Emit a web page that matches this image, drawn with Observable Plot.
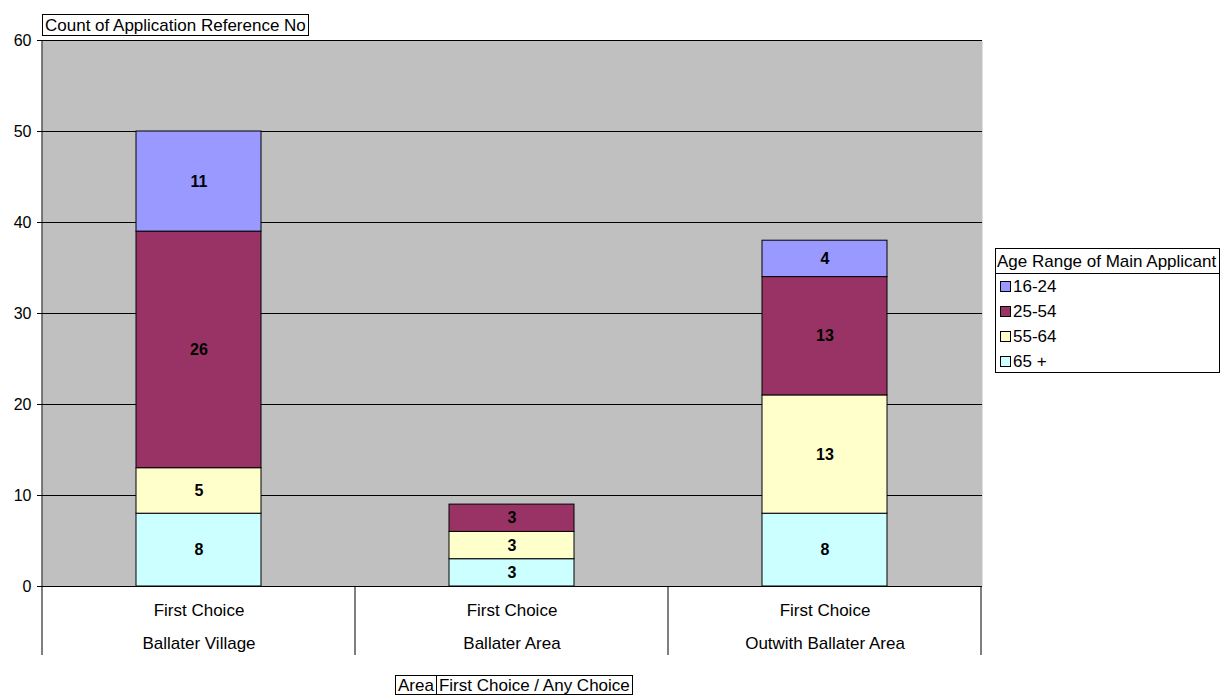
<!DOCTYPE html>
<html>
<head>
<meta charset="utf-8">
<script src="https://cdn.jsdelivr.net/npm/d3@7"></script>
<script src="https://cdn.jsdelivr.net/npm/@observablehq/plot@0.6"></script>
<style>
  html, body { margin: 0; padding: 0; background: #fff; }
  body { font-family: "Liberation Sans", Arial, sans-serif; color: #000; }
  #wrap { position: relative; width: 1220px; height: 695px; }
  #chart { position: absolute; left: 0; top: 0; }
  .box { position: absolute; border: 1px solid #000; background: #fff; font-size: 17px; line-height: 1; box-sizing: border-box; }
  #title { left: 42px; top: 14px; height: 22px; padding: 2px 2px 0 2px; white-space: nowrap; }
  #legend { left: 995px; top: 248px; width: 225px; height: 125px; }
  #legend .hdr { height: 25px; border-bottom: 1px solid #000; padding: 4px 1px 0 1px; box-sizing: border-box; white-space: nowrap; }
  #legend .item { height: 25px; display: flex; align-items: center; padding-left: 4px; }
  #legend .sw { width: 11px; height: 11px; border: 1px solid #000; margin-right: 2px; box-sizing: border-box; }
  #foot { left: 395px; top: 675px; height: 20px; display: flex; white-space: nowrap; }
  #foot span { padding: 1px 2px 0 2px; }
  #foot span + span { border-left: 1px solid #000; }
</style>
</head>
<body>
<div id="wrap">
  <div id="chart"></div>
  <div id="title" class="box"></div>
  <div id="legend" class="box"></div>
  <div id="foot" class="box"></div>
</div>
<script>
// ---- data ----
const categories = ["Ballater Village", "Ballater Area", "Outwith Ballater Area"];
const choiceLabel = "First Choice";
const ages = ["65 +", "55-64", "25-54", "16-24"];          // bottom to top
const legendOrder = ["16-24", "25-54", "55-64", "65 +"];
const ageColors = ["#ccffff", "#ffffcc", "#993366", "#9999ff"];
const values65 = [8, 3, 8];
const values55 = [5, 3, 13];
const values25 = [26, 3, 13];
const values16 = [11, 0, 4];
const yTicks = [0, 10, 20, 30, 40, 50, 60];
const titleText = "Count of Application Reference No";
const legendTitle = "Age Range of Main Applicant";
const footLabels = ["Area", "First Choice / Any Choice"];

// ---- build table ----
const seriesByAge = [values65, values55, values25, values16];
const rows = [];
ages.forEach((age, ai) => {
  categories.forEach((cat, ci) => {
    rows.push({area: cat, age, count: seriesByAge[ai][ci]});
  });
});
const nonZero = rows.filter(d => d.count > 0);

const W = 1220, H = 695;
const mL = 42, mR = 238, mT = 40, mB = 109;
const font = "Liberation Sans, Arial, sans-serif";

const plot = Plot.plot({
  width: W,
  height: H,
  marginLeft: mL,
  marginRight: mR,
  marginTop: mT,
  marginBottom: mB,
  style: {fontFamily: font, fontSize: "17px", color: "#000", background: "transparent"},
  x: {type: "band", domain: categories, paddingInner: 0.6, paddingOuter: 0.3},
  y: {domain: [0, 60]},
  color: {domain: ages, range: ageColors},
  marks: [
    Plot.frame({fill: "#c0c0c0", stroke: "none"}),
    Plot.ruleY(yTicks, {stroke: "#000", strokeWidth: 1}),
    Plot.barY(nonZero, Plot.stackY({x: "area", y: "count", fill: "age", stroke: "#000", strokeWidth: 1, order: ages})),
    Plot.text(nonZero, Plot.stackY({x: "area", y: "count", z: "age", text: d => String(d.count), order: ages, fontWeight: "bold", fontSize: 16, fill: "#000"})),
    Plot.axisY({ticks: yTicks, tickSize: 5, tickPadding: 6, fontSize: 16, tickFormat: d => d, label: null, stroke: "#000"}),
    Plot.axisX({tickSize: 0, tickPadding: 17, fontSize: 17, tickFormat: () => choiceLabel, label: null}),
    Plot.axisX({tickSize: 0, tickPadding: 50, fontSize: 17, label: null})
  ]
});
document.getElementById("chart").appendChild(plot);

// left axis line and separators under the x axis, positioned via the scales
const xs = plot.scale("x");
const ys = plot.scale("y");
const svg = d3.select(plot);
const y0 = ys.apply(0);
const y60 = ys.apply(60);
const gap = (xs.step - xs.bandwidth) / 2;
const edges = categories.map(c => xs.apply(c) - gap);
edges.push(xs.apply(categories[categories.length - 1]) + xs.bandwidth + gap);
svg.append("line")
  .attr("x1", edges[0]).attr("x2", edges[0])
  .attr("y1", y60).attr("y2", y0).attr("stroke", "#000");
svg.append("g").selectAll("line").data(edges).join("line")
  .attr("x1", d => d).attr("x2", d => d)
  .attr("y1", y0).attr("y2", y0 + 69)
  .attr("stroke", "#000");

// title
document.getElementById("title").textContent = titleText;

// legend
const leg = document.getElementById("legend");
const hdr = document.createElement("div");
hdr.className = "hdr";
hdr.textContent = legendTitle;
leg.appendChild(hdr);
legendOrder.forEach(a => {
  const it = document.createElement("div");
  it.className = "item";
  const sw = document.createElement("div");
  sw.className = "sw";
  sw.style.background = ageColors[ages.indexOf(a)];
  const t = document.createElement("span");
  t.textContent = a;
  it.appendChild(sw);
  it.appendChild(t);
  leg.appendChild(it);
});

// footer
const foot = document.getElementById("foot");
footLabels.forEach(s => {
  const sp = document.createElement("span");
  sp.textContent = s;
  foot.appendChild(sp);
});
</script>
</body>
</html>
